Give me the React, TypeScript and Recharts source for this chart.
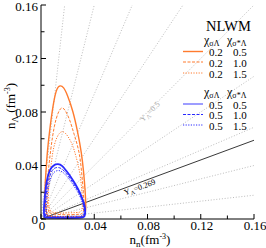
import { ComposedChart, Line, XAxis, YAxis, ReferenceDot } from "recharts";

const SERIF = "'Liberation Serif', 'Times New Roman', serif";
const ORANGE = "#ff7b2e";
const BLUE = "#2828ff";
const RAY_GREY = "#b4b4b4";

const AXIS_TICKS = [0, 0.02, 0.04, 0.06, 0.08, 0.1, 0.12, 0.14, 0.16];
const MAJOR_TICKS = [0, 0.04, 0.08, 0.12, 0.16];
const TICK_LABELS = ["0", "0.04", "0.08", "0.12", "0.16"];

// fractions Y_Lambda drawn as rays from the origin
const RAY_Y = [0.1, 0.2, 0.3, 0.4, 0.5, 0.6, 0.7, 0.8, 0.9];
const MARKED_Y = 0.269;

// instability boundaries, [n_n, n_Lambda] in fm^-3
const chi02_05 = [
  [0.0045, 0.003], [0.003, 0.015], [0.0034, 0.03], [0.0048, 0.05], [0.007, 0.07],
  [0.0095, 0.087], [0.012, 0.097], [0.0145, 0.0995], [0.017, 0.098], [0.02, 0.092],
  [0.024, 0.08], [0.0275, 0.065], [0.0302, 0.05], [0.032, 0.035], [0.0332, 0.02],
  [0.0336, 0.008], [0.0327, 0.003], [0.03, 0.0018], [0.02, 0.0015], [0.01, 0.0018],
  [0.006, 0.0022], [0.0045, 0.003],
];
const chi02_10 = [
  [0.006, 0.005], [0.0045, 0.015], [0.005, 0.03], [0.0073, 0.0516], [0.01, 0.069],
  [0.0128, 0.079], [0.0155, 0.083], [0.0182, 0.081], [0.0215, 0.074], [0.025, 0.063],
  [0.0285, 0.05], [0.0305, 0.035], [0.0318, 0.02], [0.0322, 0.009], [0.0312, 0.0045],
  [0.028, 0.0035], [0.018, 0.0032], [0.009, 0.0038], [0.006, 0.005],
];
const chi02_15 = [
  [0.007, 0.006], [0.0055, 0.015], [0.0063, 0.03], [0.0078, 0.042], [0.0092, 0.0516],
  [0.012, 0.061], [0.016, 0.0653], [0.02, 0.062], [0.0235, 0.0555], [0.0262, 0.047],
  [0.029, 0.035], [0.0306, 0.022], [0.0312, 0.011], [0.03, 0.0058], [0.026, 0.0048],
  [0.016, 0.0045], [0.009, 0.005], [0.007, 0.006],
];
const chi05_05 = [
  [0.0025, 0.0015], [0.0022, 0.007], [0.003, 0.018], [0.0045, 0.029], [0.0068, 0.0367],
  [0.0095, 0.04], [0.0128, 0.041], [0.016, 0.0395], [0.019, 0.036], [0.022, 0.032],
  [0.0255, 0.0265], [0.029, 0.02], [0.0318, 0.013], [0.0332, 0.007], [0.0328, 0.0025],
  [0.03, 0.001], [0.02, 0.0007], [0.01, 0.0008], [0.004, 0.001], [0.0025, 0.0015],
];
const chi05_10 = [
  [0.0035, 0.002], [0.003, 0.008], [0.0038, 0.018], [0.0052, 0.027], [0.0075, 0.0345],
  [0.01, 0.0378], [0.013, 0.0385], [0.0162, 0.037], [0.0192, 0.0338], [0.0222, 0.0298],
  [0.0256, 0.0247], [0.029, 0.0188], [0.0315, 0.0125], [0.0327, 0.0068], [0.0322, 0.0028],
  [0.0295, 0.0016], [0.02, 0.0013], [0.01, 0.0014], [0.005, 0.0016], [0.0035, 0.002],
];
const chi05_15 = [
  [0.0045, 0.0028], [0.004, 0.009], [0.0047, 0.018], [0.006, 0.026], [0.0082, 0.0325],
  [0.0106, 0.0355], [0.0135, 0.0362], [0.0165, 0.0348], [0.0195, 0.0318], [0.0225, 0.028],
  [0.0257, 0.0232], [0.0288, 0.0178], [0.0311, 0.012], [0.0322, 0.0068], [0.0316, 0.0032],
  [0.029, 0.0022], [0.02, 0.0019], [0.011, 0.002], [0.006, 0.0022], [0.0045, 0.0028],
];

const CHI_SL = ["0.2", "0.5"];
const CHI_SSL = ["0.5", "1.0", "1.5"];
const DASHES = [undefined, "3 1.5", "1.2 1.4"];

const curves = [
  { key: "o05", pts: chi02_05, color: ORANGE, width: 1.4, dash: DASHES[0] },
  { key: "o10", pts: chi02_10, color: ORANGE, width: 1, dash: DASHES[1] },
  { key: "o15", pts: chi02_15, color: ORANGE, width: 1, dash: DASHES[2] },
  { key: "b05", pts: chi05_05, color: BLUE, width: 1.8, dash: DASHES[0] },
  { key: "b10", pts: chi05_10, color: BLUE, width: 1, dash: DASHES[1] },
  { key: "b15", pts: chi05_15, color: BLUE, width: 1, dash: DASHES[2] },
];

const MAX = 0.16;

function ray(Y: number) {
  const k = Y / (1 - Y);
  const end = k <= 1 ? { x: MAX, y: MAX * k } : { x: MAX / k, y: MAX };
  return [{ x: 0, y: 0 }, end];
}

function majorIndex(v: number) {
  return MAJOR_TICKS.findIndex((m) => Math.abs(m - v) < 1e-9);
}

const tickText = { fontFamily: SERIF, fontSize: 13, fill: "#000" };

function BottomTick(p: any) {
  const i = majorIndex(p.payload.value);
  return (
    <g>
      <line x1={p.x} x2={p.x} y1={p.y} y2={p.y - (i >= 0 ? 5 : 3.5)} stroke="#000" />
      {i >= 0 && (
        <text x={p.x + 1} y={p.y + 11} textAnchor="middle" {...tickText}>
          {TICK_LABELS[i]}
        </text>
      )}
    </g>
  );
}

function TopTick(p: any) {
  const i = majorIndex(p.payload.value);
  return <line x1={p.x} x2={p.x} y1={p.y} y2={p.y + (i >= 0 ? 5 : 3.5)} stroke="#000" />;
}

function LeftTick(p: any) {
  const i = majorIndex(p.payload.value);
  return (
    <g>
      <line x1={p.x} x2={p.x + (i >= 0 ? 5 : 3.5)} y1={p.y} y2={p.y} stroke="#000" />
      {i >= 0 && (
        <text x={p.x - 3} y={Math.max(p.y + 4.5, 11)} textAnchor="end" {...tickText}>
          {TICK_LABELS[i]}
        </text>
      )}
    </g>
  );
}

function RightTick(p: any) {
  const i = majorIndex(p.payload.value);
  return <line x1={p.x} x2={p.x - (i >= 0 ? 5 : 3.5)} y1={p.y} y2={p.y} stroke="#000" />;
}

function XTitle() {
  return (
    <text x={150} y={244} textAnchor="middle" fontFamily={SERIF} fontSize={13} fill="#000">
      n<tspan fontSize={9} dy={3}>n</tspan>
      <tspan dy={-3}>(fm</tspan>
      <tspan fontSize={8} dy={-5}>-3</tspan>
      <tspan dy={5}>)</tspan>
    </text>
  );
}

function YTitle() {
  return (
    <text transform="translate(15,106) rotate(-90)" textAnchor="middle" fontFamily={SERIF} fontSize={13} fill="#000">
      n<tspan fontSize={9} dy={3}>Λ</tspan>
      <tspan dy={-3}> (fm</tspan>
      <tspan fontSize={8} dy={-5}>-3</tspan>
      <tspan dy={5}>)</tspan>
    </text>
  );
}

function rayLabel(text: string, angle: number, color: string, dy: number) {
  return (props: any) => {
    const vb = props.viewBox;
    const cx = vb.x + (vb.width || 0) / 2;
    const cy = vb.y + (vb.height || 0) / 2;
    return (
      <text
        transform={`translate(${cx},${cy}) rotate(${-angle})`}
        textAnchor="middle"
        dy={dy}
        fontFamily={SERIF}
        fontSize={8}
        fill={color}
      >
        Y<tspan fontSize={6} dy={2}>Λ</tspan>
        <tspan dy={-2}>={text}</tspan>
      </text>
    );
  };
}

function LegendHeader({ y }: { y: number }) {
  return (
    <g fontFamily={SERIF} fill="#000">
      <text x={204} y={y} fontSize={12}>
        χ<tspan fontSize={8} dy={2}>σΛ</tspan>
      </text>
      <text x={227} y={y} fontSize={12}>
        χ<tspan fontSize={8} dy={2}>σ*Λ</tspan>
      </text>
    </g>
  );
}

function Legend() {
  const rows = [
    { y: 52.5, sl: CHI_SL[0] },
    { y: 63, sl: CHI_SL[0] },
    { y: 74, sl: CHI_SL[0] },
    { y: 105, sl: CHI_SL[1] },
    { y: 115.5, sl: CHI_SL[1] },
    { y: 126, sl: CHI_SL[1] },
  ];
  return (
    <svg
      width={266}
      height={248}
      style={{ position: "absolute", left: 0, top: 0, pointerEvents: "none" }}
    >
      <text x={206} y={31} fontFamily={SERIF} fontSize={14.5} fill="#000">
        NLWM
      </text>
      <LegendHeader y={43.5} />
      <LegendHeader y={96} />
      {rows.map((r, i) => {
        const c = curves[i];
        return (
          <g key={i}>
            <line
              x1={183}
              x2={203}
              y1={r.y - 1}
              y2={r.y - 1}
              stroke={c.color}
              strokeWidth={c.width}
              strokeOpacity={i === 3 ? 0.5 : 1}
              strokeDasharray={c.dash}
            />
            <text x={209} y={r.y + 3.5} fontFamily={SERIF} fontSize={11} fill="#000">
              {r.sl}
            </text>
            <text x={233} y={r.y + 3.5} fontFamily={SERIF} fontSize={11} fill="#000">
              {CHI_SSL[i % 3]}
            </text>
          </g>
        );
      })}
    </svg>
  );
}

export default function App() {
  const markedK = MARKED_Y / (1 - MARKED_Y);
  return (
    <div style={{ position: "absolute", left: 0, top: 0, width: 266, height: 248, background: "#fff" }}>
      <ComposedChart width={266} height={248} margin={{ top: 5, right: 12, bottom: 0, left: 8 }}>
        <XAxis
          xAxisId="b"
          dataKey="x"
          type="number"
          domain={[0, MAX]}
          allowDataOverflow
          ticks={AXIS_TICKS}
          interval={0}
          tickSize={0}
          tickMargin={0}
          tickLine={false}
          tick={BottomTick}
          height={29}
          axisLine={{ stroke: "#000" }}
          label={{ content: () => <XTitle /> }}
        />
        <XAxis
          xAxisId="t"
          orientation="top"
          dataKey="x"
          type="number"
          domain={[0, MAX]}
          allowDataOverflow
          ticks={AXIS_TICKS}
          interval={0}
          tickSize={0}
          tickMargin={0}
          tickLine={false}
          tick={TopTick}
          height={0}
          axisLine={{ stroke: "#000" }}
        />
        <YAxis
          yAxisId="l"
          type="number"
          domain={[0, MAX]}
          allowDataOverflow
          ticks={AXIS_TICKS}
          interval={0}
          tickSize={0}
          tickMargin={0}
          tickLine={false}
          tick={LeftTick}
          width={33}
          axisLine={{ stroke: "#000" }}
          label={{ content: () => <YTitle /> }}
        />
        <YAxis
          yAxisId="r"
          orientation="right"
          type="number"
          domain={[0, MAX]}
          allowDataOverflow
          ticks={AXIS_TICKS}
          interval={0}
          tickSize={0}
          tickMargin={0}
          tickLine={false}
          tick={RightTick}
          width={0}
          axisLine={{ stroke: "#000" }}
        />
        {RAY_Y.map((Y) => (
          <Line
            key={`ray-${Y}`}
            xAxisId="b"
            yAxisId="l"
            data={ray(Y)}
            dataKey="y"
            type="linear"
            stroke={RAY_GREY}
            strokeWidth={0.9}
            strokeDasharray="1 1.8"
            dot={false}
            activeDot={false}
            isAnimationActive={false}
          />
        ))}
        <Line
          xAxisId="b"
          yAxisId="l"
          data={ray(MARKED_Y)}
          dataKey="y"
          type="linear"
          stroke="#222"
          strokeWidth={0.9}
          dot={false}
          activeDot={false}
          isAnimationActive={false}
        />
        {curves.map((c) => (
          <Line
            key={c.key}
            xAxisId="b"
            yAxisId="l"
            data={c.pts.map(([x, y]) => ({ x, y }))}
            dataKey="y"
            type="natural"
            stroke={c.color}
            strokeWidth={c.width}
            strokeDasharray={c.dash}
            dot={false}
            activeDot={false}
            isAnimationActive={false}
          />
        ))}
        <ReferenceDot
          xAxisId="b"
          yAxisId="l"
          x={0.081}
          y={0.081}
          r={1}
          fill="none"
          stroke="none"
          label={{ content: rayLabel("0.5", 45, "#a8a8a8", 4) }}
        />
        <ReferenceDot
          xAxisId="b"
          yAxisId="l"
          x={0.073}
          y={0.073 * markedK}
          r={1}
          fill="none"
          stroke="none"
          label={{ content: rayLabel("0.269", 20.3, "#000", 7) }}
        />
      </ComposedChart>
      <Legend />
    </div>
  );
}
